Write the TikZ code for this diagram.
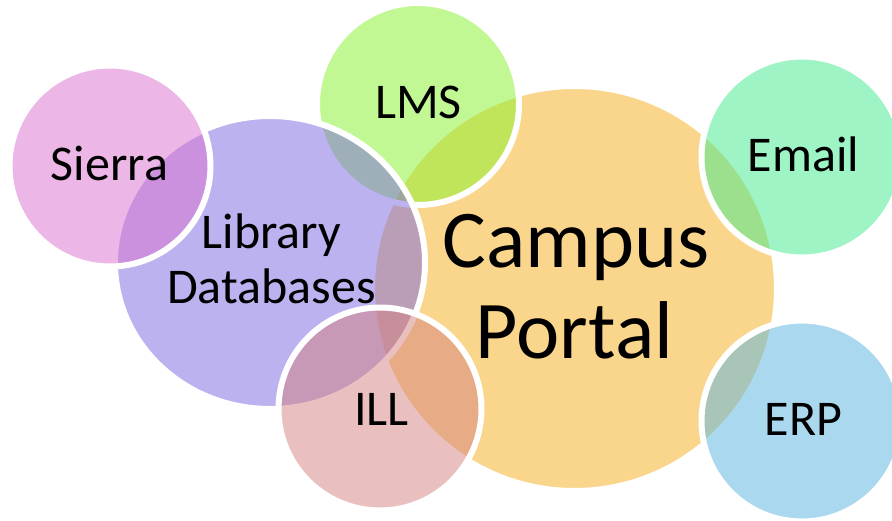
\documentclass[tikz,border=0pt]{standalone}
\usepackage{fontspec}
\setmainfont{Carlito}
\usetikzlibrary{shapes.geometric}
\definecolor{cSierra}{RGB}{219,113,209}
\definecolor{cLib}{RGB}{123,103,225}
\definecolor{cLMS}{RGB}{135,243,41}
\definecolor{cCampus}{RGB}{247,175,29}
\definecolor{cEmail}{RGB}{63,235,141}
\definecolor{cERP}{RGB}{87,181,225}
\definecolor{cILL}{RGB}{213,129,129}
\tikzset{
  bubble/.style={circle, inner sep=0pt, draw=white, line width=6pt, fill opacity=0.5, minimum size=#1},
  label/.style={anchor=base, inner sep=0pt, text=black, font=\fontsize{50}{53}\selectfont},
  biglabel/.style={anchor=base, inner sep=0pt, text=black, font=\fontsize{82}{86}\selectfont}
}
\begin{document}
\begin{tikzpicture}[x=1pt,y=-1pt]
\clip (0,0) rectangle (892,520);
\fill[white] (0,0) rectangle (892,520);
\node[bubble=405pt, fill=cCampus] (campus) at (574.5,288.5) {};
\node[bubble=202pt, fill=cLMS] (lms) at (418,104) {};
\node[ellipse, inner sep=0pt, draw=white, line width=6pt, fill opacity=0.5, fill=cLib, minimum width=310pt, minimum height=293pt] (lib) at (270,262.5) {};
\node[bubble=201pt, fill=cSierra] (sierra) at (110,166) {};
\node[bubble=203pt, fill=cILL] (ill) at (380,409) {};
\node[bubble=201pt, fill=cEmail] (email) at (802,157) {};
\node[bubble=201pt, fill=cERP] (erp) at (802,421) {};
\node[label] (tsierra) at (109.5,180) {Sierra};
\node[label] (tlms) at (418.5,118) {LMS};
\node[label] (tlib1) at (271.5,248) {Library};
\node[label] (tlib2) at (271.5,303) {Databases};
\node[label] (till) at (381.5,425) {ILL};
\node[label] (temail) at (803.5,171) {Email};
\node[label] (terp) at (803.5,435) {ERP};
\node[biglabel] (tcampus) at (576,267) {Campus};
\node[biglabel] (tportal) at (574.5,358) {Portal};
\end{tikzpicture}
\end{document}
